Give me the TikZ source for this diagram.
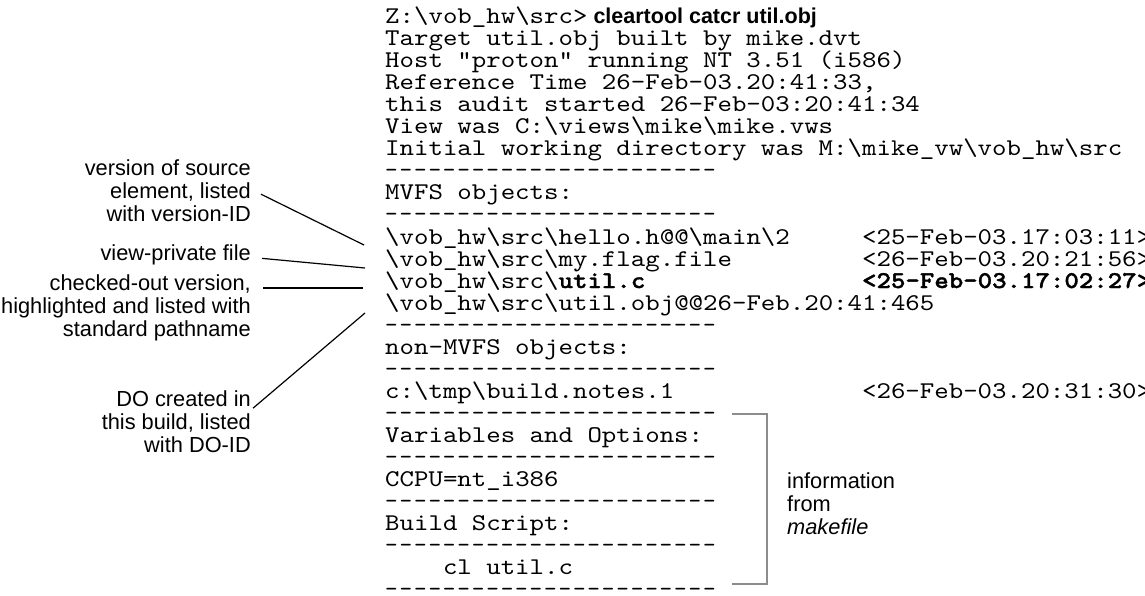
\documentclass[tikz,border=0pt]{standalone}
\usepackage{fontspec}
\setmainfont{Liberation Sans}
\setmonofont[FakeStretch=1.147,BoldFont=lmmonolt10-bold.otf,BoldFeatures={FakeBold=1.5}]{lmmono10-regular.otf}
\newfontfamily\dashfont[LetterSpace=7.7]{lmmono10-regular.otf}
\newfontfamily\hv{Liberation Sans}
\newcommand\bsl{\textbackslash}
\newlength\cw
\setlength\cw{14.45pt}
\newcommand\gap[1]{\hspace*{#1\cw}}
\newcommand\dashrow{{\dashfont -----------------------}}
\tikzset{
  coderow/.style={anchor=base west, inner sep=0pt, font=\fontsize{24}{22}\ttfamily},
  lab/.style={align=right, inner sep=0pt, anchor=north east, font=\fontsize{21.8}{23}\hv},
  info/.style={align=left, inner sep=0pt, anchor=north west, font=\fontsize{21.8}{23}\hv},
  conn/.style={draw=black, line width=1.2pt},
  brk/.style={draw=black!45, line width=2.4pt}
}
\begin{document}
\begin{tikzpicture}[x=1pt,y=-1pt]
\path[use as bounding box] (0,0) rectangle (1145,596);
\clip (0,0) rectangle (1145,596);
% code rows: baseline = 24 + 22 i
\node[coderow] (r0) at (385,24) {Z:\bsl vob\_hw\bsl src>{\hv\fontsize{21.5}{22}\selectfont\bfseries\ cleartool catcr util.obj}};
\node[coderow] (r1) at (385,46) {Target util.obj built by mike.dvt};
\node[coderow] (r2) at (385,68) {Host "proton" running NT 3.51 (i586)};
\node[coderow] (r3) at (385,90) {Reference Time 26-Feb-03.20:41:33,};
\node[coderow] (r4) at (385,112) {this audit started 26-Feb-03:20:41:34};
\node[coderow] (r5) at (385,134) {View was C:\bsl views\bsl mike\bsl mike.vws};
\node[coderow] (r6) at (385,156) {Initial working directory was M:\bsl mike\_vw\bsl vob\_hw\bsl src};
\node[coderow] (r7) at (385,178) {\dashrow};
\node[coderow] (r8) at (385,200) {MVFS objects:};
\node[coderow] (r9) at (385,222) {\dashrow};
\node[coderow] (r10) at (385,244) {\bsl vob\_hw\bsl src\bsl hello.h@@\bsl main\bsl 2\gap{5}<25-Feb-03.17:03:11>};
\node[coderow] (r11) at (385,266) {\bsl vob\_hw\bsl src\bsl my.flag.file\gap{9}<26-Feb-03.20:21:56>};
\node[coderow] (r12) at (385,288) {\bsl vob\_hw\bsl src\bsl\textbf{util.c}\gap{15}\textbf{<25-Feb-03.17:02:27>}};
\node[coderow] (r13) at (385,310) {\bsl vob\_hw\bsl src\bsl util.obj@@26-Feb.20:41:465};
\node[coderow] (r14) at (385,332) {\dashrow};
\node[coderow] (r15) at (385,354) {non-MVFS objects:};
\node[coderow] (r16) at (385,376) {\dashrow};
\node[coderow] (r17) at (385,398) {c:\bsl tmp\bsl build.notes.1\gap{13}<26-Feb-03.20:31:30>};
\node[coderow] (r18) at (385,420) {\dashrow};
\node[coderow] (r19) at (385,442) {Variables and Options:};
\node[coderow] (r20) at (385,464) {\dashrow};
\node[coderow] (r21) at (385,486) {CCPU=nt\_i386};
\node[coderow] (r22) at (385,508) {\dashrow};
\node[coderow] (r23) at (385,530) {Build Script:};
\node[coderow] (r24) at (385,552) {\dashrow};
\node[coderow] (r25) at (385,574) {\gap{4}cl util.c};
\node[coderow] (r26) at (385,596) {\dashrow};
% left labels
\node[lab] (L1) at (251,160) {version of source\\element, listed\\with version-ID};
\node[lab] (L2) at (251,245) {view-private file};
\node[lab] (L3) at (251,275) {checked-out version,\\highlighted and listed with\\standard pathname};
\node[lab] (L4) at (251,390) {DO created in\\this build, listed\\with DO-ID};
% connectors
\draw[conn] ([xshift=10pt,yshift=-3pt]L1.east) -- ([xshift=-21pt,yshift=-1pt]r10.base west);
\draw[conn] ([xshift=11pt,yshift=-3pt]L2.east) -- ([xshift=-20pt,yshift=-2pt]r11.base west);
\draw[conn] ([xshift=12pt,yshift=-13pt]L3.north east) -- ([xshift=-22pt]r12.base west);
\draw[conn] ([xshift=2pt,yshift=13pt]L4.east) -- ([xshift=-20pt,yshift=-3pt]r13.base west);
% bracket
\coordinate (bt) at ([xshift=16pt,yshift=6pt]r18.base east);
\coordinate (bb) at ([xshift=16pt,yshift=12pt]r26.base east);
\draw[brk] (bt) -- ++(35,0) |- (bb);
\node[info] (I) at (787,472) {information\\from\\\textit{makefile}};
\end{tikzpicture}
\end{document}
